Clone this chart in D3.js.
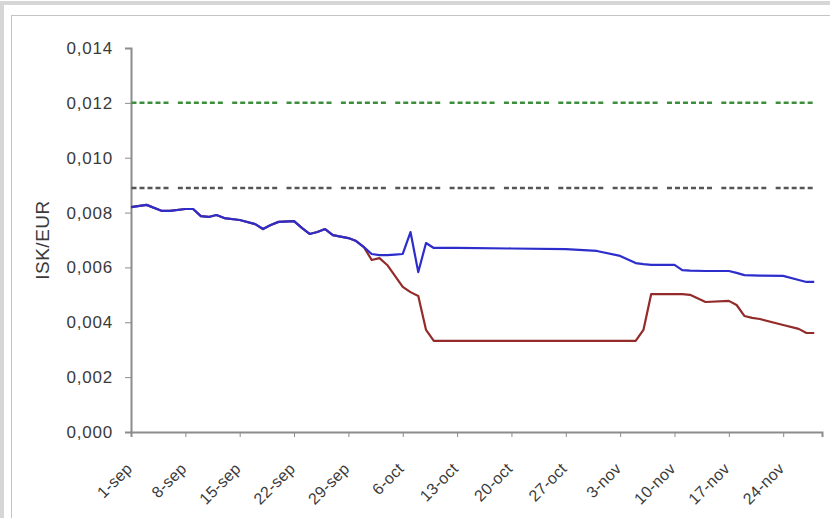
<!DOCTYPE html>
<html>
<head>
<meta charset="utf-8">
<script src="https://cdn.jsdelivr.net/npm/d3@7"></script>
<style>
body { margin: 0; background: #fff; }
svg { display: block; font-family: "Liberation Sans", Arial, sans-serif; }
</style>
</head>
<body>
<div id="chart"></div>
<script>
// data
const dates = ["2008-09-01","2008-09-03","2008-09-05","2008-09-06","2008-09-08","2008-09-09","2008-09-10","2008-09-11","2008-09-12","2008-09-13",
    "2008-09-15","2008-09-17","2008-09-18","2008-09-19","2008-09-20","2008-09-22","2008-09-23","2008-09-24","2008-09-25","2008-09-26",
    "2008-09-27","2008-09-29","2008-09-30","2008-10-01","2008-10-02","2008-10-03","2008-10-04","2008-10-05","2008-10-06","2008-10-07",
    "2008-10-08","2008-10-09","2008-10-10","2008-10-13","2008-10-20","2008-10-27","2008-10-31","2008-11-03","2008-11-05","2008-11-06",
    "2008-11-07","2008-11-10","2008-11-11","2008-11-12","2008-11-14","2008-11-17","2008-11-18","2008-11-19","2008-11-20","2008-11-21",
    "2008-11-24","2008-11-26","2008-11-27","2008-11-28"];

// blue series
const onshore = [0.00820,0.00828,0.00806,0.00806,0.00813,0.00813,0.00787,0.00784,0.00791,0.00780,
    0.00773,0.00758,0.00740,0.00755,0.00766,0.00769,0.00744,0.00722,0.00729,0.00740,
    0.00718,0.00707,0.00696,0.00674,0.00649,0.00645,0.00645,0.00647,0.00649,0.00729,
    0.00583,0.00689,0.00671,0.00671,0.00669,0.00667,0.00660,0.00642,0.00616,0.00612,
    0.00609,0.00609,0.00590,0.00588,0.00587,0.00587,0.00580,0.00572,0.00571,0.00570,
    0.00569,0.00554,0.00547,0.00547];

// red series
const offshore = [0.00820,0.00828,0.00806,0.00806,0.00813,0.00813,0.00787,0.00784,0.00791,0.00780,
    0.00773,0.00758,0.00740,0.00755,0.00766,0.00769,0.00744,0.00722,0.00729,0.00740,
    0.00718,0.00707,0.00696,0.00674,0.00627,0.00634,0.00609,0.00569,0.00529,0.00510,
    0.00496,0.00372,0.00332,0.00332,0.00332,0.00332,0.00332,0.00332,0.00332,0.00372,
    0.00503,0.00503,0.00503,0.00500,0.00474,0.00478,0.00463,0.00423,0.00416,0.00412,
    0.00390,0.00376,0.00361,0.00361];

// flat reference levels
const levels = [0.012, 0.0089];

const yTicks = [0, 0.002, 0.004, 0.006, 0.008, 0.010, 0.012, 0.014];
const monthNames = ["jan","feb","mar","apr","may","jun","jul","aug","sep","oct","nov","dec"];

// page setup
const width = 830;
const height = 518;
const plot = { left: 131, right: 822, top: 48, bottom: 432 };

const svg = d3.select("#chart")
    .append("svg")
    .attr("width", width)
    .attr("height", height);

// outer frame and chart area border
svg.append("rect")
    .attr("x", 2).attr("y", 3)
    .attr("width", width + 10).attr("height", height + 10)
    .attr("fill", "none")
    .attr("stroke", "#d6d6d6")
    .attr("stroke-width", 4);

svg.append("rect")
    .attr("x", 11.5).attr("y", 15.5)
    .attr("width", width).attr("height", height)
    .attr("fill", "#fff")
    .attr("stroke", "#c4c4c4")
    .attr("stroke-width", 1);

const parse = d3.timeParse("%Y-%m-%d");
const data = dates.map((d, i) => ({ date: parse(d), a: onshore[i], b: offshore[i] }));

const x = d3.scaleTime()
    .domain([new Date(2008, 8, 1), new Date(2008, 10, 29)])
    .range([plot.left, plot.right]);

const y = d3.scaleLinear()
    .domain([0, 0.014])
    .range([plot.bottom, plot.top]);

// y axis
const yAxis = svg.append("g")
    .attr("transform", `translate(${plot.left},0)`)
    .call(d3.axisLeft(y)
        .tickValues(yTicks)
        .tickFormat(d => d3.format(".3f")(d).replace(".", ","))
        .tickSizeOuter(0)
        .tickSize(6)
        .tickPadding(12));
yAxis.select(".domain").attr("stroke", "#8c8c8c").attr("stroke-width", 2);
yAxis.selectAll(".tick line").attr("stroke", "#8c8c8c");
yAxis.selectAll("text")
    .attr("font-size", "17px")
    .attr("letter-spacing", "0.8px")
    .attr("fill", "#3a3a3a");

// x axis
const xAxis = svg.append("g")
    .attr("transform", `translate(0,${plot.bottom})`)
    .call(d3.axisBottom(x)
        .tickValues(d3.timeMonday.range(new Date(2008, 8, 1), new Date(2008, 10, 29)))
        .tickFormat(d => `${d.getDate()}-${monthNames[d.getMonth()]}`)
        .tickSizeOuter(0)
        .tickSize(5));
xAxis.select(".domain").attr("stroke", "#8c8c8c").attr("stroke-width", 2);
xAxis.selectAll(".tick line").attr("stroke", "#8c8c8c");
xAxis.selectAll("text")
    .attr("font-size", "16px")
    .attr("letter-spacing", "0.3px")
    .attr("fill", "#3a3a3a")
    .attr("text-anchor", "end")
    .attr("dy", 0)
    .attr("transform", "translate(-4,32) rotate(-45)");

// y axis label
svg.append("text")
    .attr("transform", `translate(49,240) rotate(-90)`)
    .attr("text-anchor", "middle")
    .attr("font-size", "19px")
    .attr("letter-spacing", "0.5px")
    .attr("fill", "#3a3a3a")
    .text("ISK/EUR");

// dashed reference lines, grouped week by week
const week = x(new Date(2008, 8, 8)) - x(new Date(2008, 8, 1));
const dashes = [5, 3, 5, 3, 5, 3, 5, 3, 5, 3, 5, week - 45];
const lineGen = d3.line().x(d => x(d[0])).y(d => y(d[1]));
const first = data[0].date, last = data[data.length - 1].date;
const levelColors = ["#3d8f3d", "#555"];

levels.forEach((lv, i) => {
    svg.append("path")
        .datum([[first, lv], [last, lv]])
        .attr("d", lineGen)
        .attr("fill", "none")
        .attr("stroke", levelColors[i])
        .attr("stroke-width", 2.5)
        .attr("stroke-dasharray", dashes.join(","))
        .attr("stroke-dashoffset", 7.5);
});

// red line below, blue line on top
svg.append("path")
    .datum(data)
    .attr("d", d3.line().x(d => x(d.date)).y(d => y(d.b)))
    .attr("fill", "none")
    .attr("stroke", "#942b2b")
    .attr("stroke-width", 2.2)
    .attr("stroke-linejoin", "round");

svg.append("path")
    .datum(data)
    .attr("d", d3.line().x(d => x(d.date)).y(d => y(d.a)))
    .attr("fill", "none")
    .attr("stroke", "#2d2dcc")
    .attr("stroke-width", 2.2)
    .attr("stroke-linejoin", "round");
</script>
</body>
</html>
